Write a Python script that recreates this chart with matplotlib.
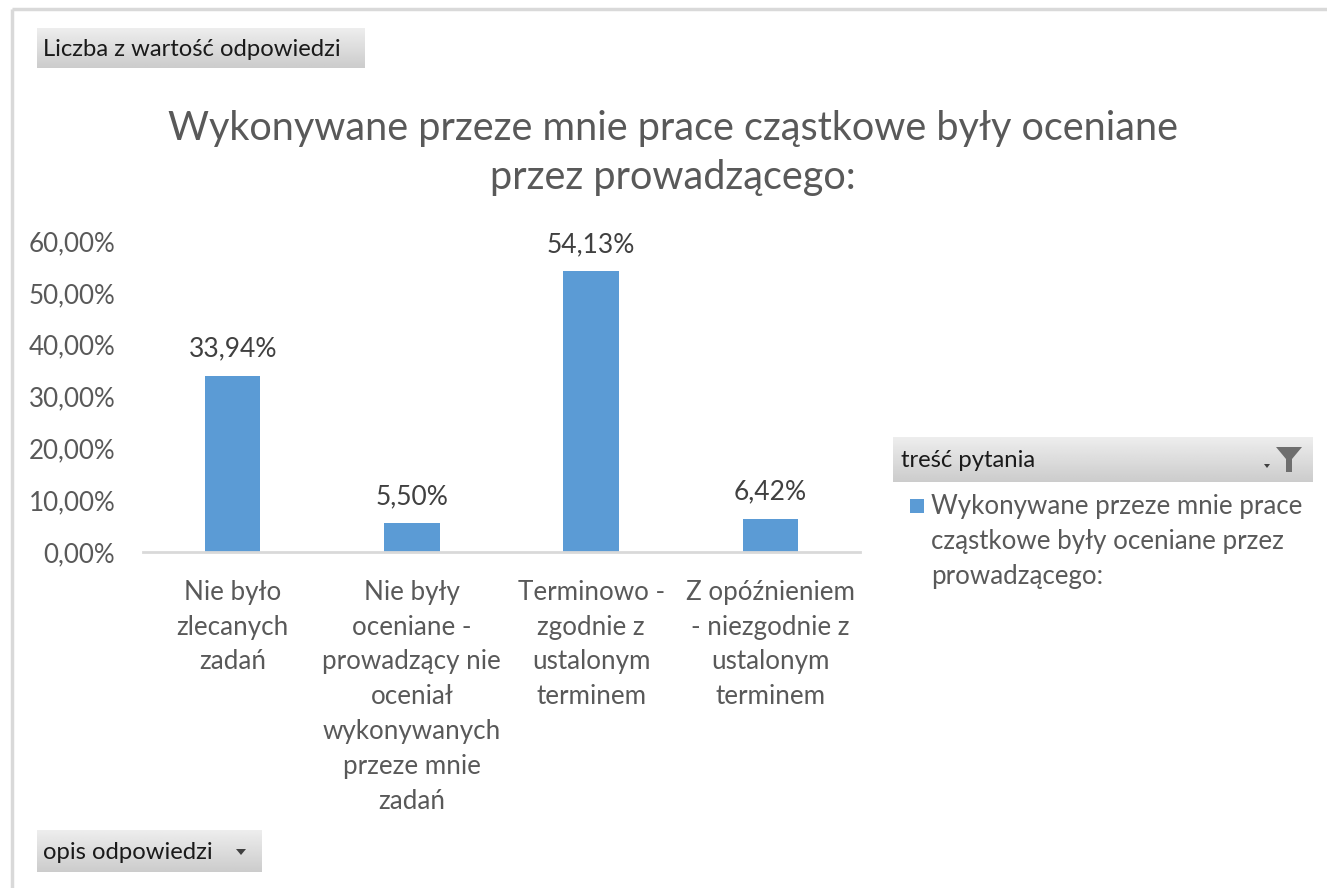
import numpy as np
import matplotlib
matplotlib.use('Agg')
import matplotlib.pyplot as plt
from matplotlib.patches import Rectangle, Polygon

categories = ['Nie było\nzlecanych\nzadań',
              'Nie były\noceniane -\nprowadzący nie\noceniał\nwykonywanych\nprzeze mnie\nzadań',
              'Terminowo -\nzgodnie z\nustalonym\nterminem',
              'Z opóźnieniem\n- niezgodnie z\nustalonym\nterminem']
values = [0.3394, 0.0550, 0.5413, 0.0642]
yticks = [0.0, 0.1, 0.2, 0.3, 0.4, 0.5, 0.6]
title = 'Wykonywane przeze mnie prace cząstkowe były oceniane\nprzez prowadzącego:'
legend_label = 'Wykonywane przeze mnie prace\ncząstkowe były oceniane przez\nprowadzącego:'


def pct(v):
    return ('%.2f%%' % (v * 100)).replace('.', ',')


plt.rcParams['font.family'] = ['Lato', 'DejaVu Sans']

W, H = 1327, 888
fig = plt.figure(figsize=(W / 100, H / 100), dpi=100)

# background overlay in pixel coordinates
bg = fig.add_axes([0, 0, 1, 1], zorder=0)
bg.axis('off')

border = '#d9d9d9'
bg.plot([12, W], [9, 9], color=border, lw=2.5, solid_capstyle='butt')
bg.plot([12, 12], [9, H], color=border, lw=2.5, solid_capstyle='butt')

grad = np.linspace(0.93, 0.80, 50)[:, None] * np.ones((1, 2))


def button(x0, y0, x1, y1):
    bg.imshow(grad, cmap='gray', vmin=0, vmax=1, extent=(x0, x1, y1, y0),
              aspect='auto', interpolation='bilinear')


btn_font = 17.2
button(37, 28, 365, 68)
bg.text(43, 49, 'Liczba z wartość odpowiedzi', fontsize=btn_font, color='#1a1a1a',
        va='center', ha='left')

button(37, 830, 262, 872)
bg.text(43, 852, 'opis odpowiedzi', fontsize=btn_font, color='#1a1a1a',
        va='center', ha='left')
bg.add_patch(Polygon([[236, 849], [246, 849], [241, 855]], closed=True,
                     color='#404040', lw=0))

button(893, 437, 1313, 482)
bg.text(901, 460, 'treść pytania', fontsize=btn_font, color='#1a1a1a',
        va='center', ha='left')
bg.add_patch(Polygon([[1276, 447], [1302, 447], [1292, 459], [1292, 472],
                      [1286, 472], [1286, 459]], closed=True, color='#6e6e6e', lw=0))
bg.add_patch(Polygon([[1264, 464], [1270, 464], [1267, 468]], closed=True,
                     color='#404040', lw=0))

bg.set_xlim(0, W)
bg.set_ylim(H, 0)

# legend entry
bg.add_patch(Rectangle((910, 499), 14, 14, color='#5b9bd5', lw=0))
bg.text(931, 494, legend_label, fontsize=18.6, color='#595959', va='top',
        ha='left', linespacing=1.49)

fig.text(0.507, 1 - 153 / H, title, ha='center', va='center', fontsize=28.5,
         color='#595959', linespacing=1.42)

# main chart
ax = fig.add_axes([143 / W, 1 - 552 / H, 717 / W, 311 / H], zorder=1)
ax.patch.set_alpha(0)
x = np.arange(len(values))
ax.bar(x, values, width=0.31, color='#5b9bd5', zorder=2)
ax.set_xlim(-0.5, 3.5)
ax.set_ylim(0, 0.6)
ax.set_yticks(yticks)
ax.set_yticklabels([pct(v) for v in yticks])
ax.set_xticks(x)
ax.set_xticklabels(categories, linespacing=1.49)
ax.tick_params(axis='y', length=0, pad=20, labelsize=18.7, labelcolor='#595959')
ax.tick_params(axis='x', length=0, pad=20, labelsize=18.7, labelcolor='#595959')
for s in ['top', 'right', 'left']:
    ax.spines[s].set_visible(False)
ax.spines['bottom'].set_color('#d9d9d9')
ax.spines['bottom'].set_linewidth(2)

for xi, v in zip(x, values):
    ax.annotate(pct(v), (xi, v), xytext=(0, 14), textcoords='offset points',
                ha='center', va='baseline', fontsize=19, color='#404040')

fig.savefig('out.png', dpi=100)
